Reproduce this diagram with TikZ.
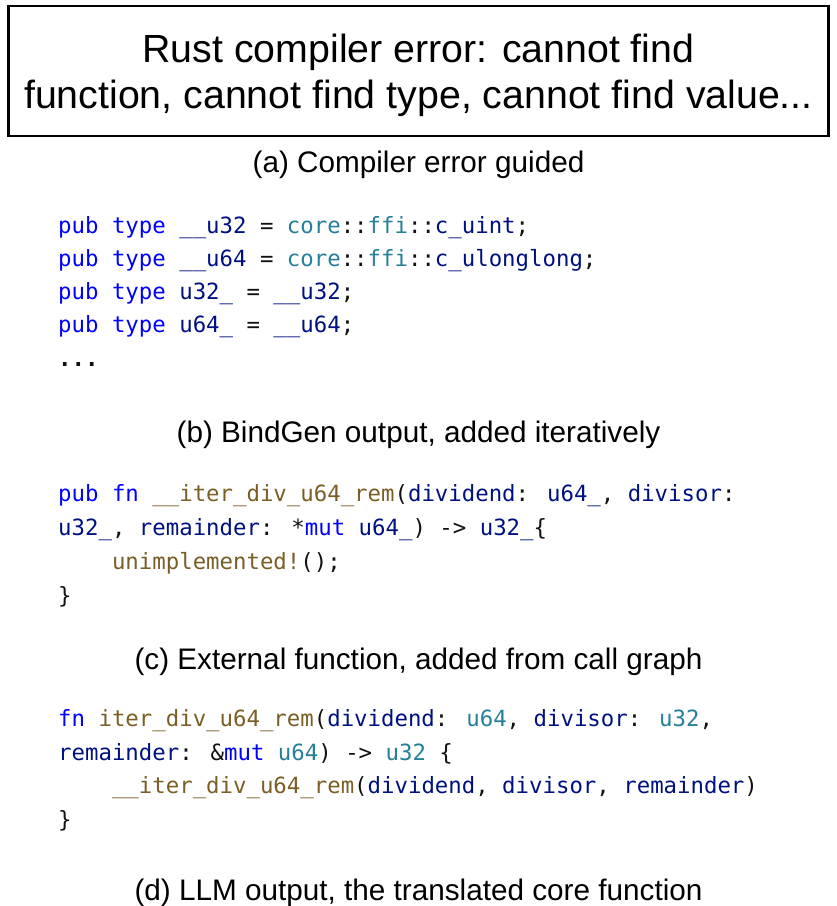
\documentclass[tikz,border=0pt]{standalone}
\usepackage{fontspec}
\setmainfont{Liberation Sans}
\newfontfamily\codefont{DejaVu Sans Mono}[WordSpace={1,0,0}]
\definecolor{kwc}{HTML}{0000FF}
\definecolor{idc}{HTML}{001080}
\definecolor{tyc}{HTML}{267F99}
\definecolor{fnc}{HTML}{795E26}
\definecolor{puc}{HTML}{111111}
\newcommand\ckw[1]{\textcolor{kwc}{#1}}
\newcommand\cid[1]{\textcolor{idc}{#1}}
\newcommand\cty[1]{\textcolor{tyc}{#1}}
\newcommand\cfn[1]{\textcolor{fnc}{#1}}
\begin{document}
\begin{tikzpicture}[x=1pt,y=-1pt,
  code/.style={anchor=base west, inner sep=0pt, text=puc,
    font=\codefont\fontsize{22.35}{26}\selectfont},
  captxt/.style={anchor=base, inner sep=0pt,
    font=\fontsize{29.7}{34}\selectfont},
  titletxt/.style={anchor=base, inner sep=0pt,
    font=\fontsize{39.3}{46}\selectfont},
  titlebox/.style={draw=black, line width=2.5pt, minimum width=820pt,
    minimum height=130pt, inner sep=0pt}]
\useasboundingbox (0,0) rectangle (837,906);
% title
\node[titlebox] (tbox) at (418.25,71) {};
\node[titletxt] (t1) at (418.5,62) {Rust compiler error: cannot find};
\node[titletxt] (t2) at (418.5,108) {function, cannot find type, cannot find value...};
\node[captxt] (capa) at (418.5,172) {(a) Compiler error guided};
% bindgen block
\node[code] (a1) at (58,233) {\ckw{pub type} \cid{\_\_u32} = \cty{core}::\cty{ffi}::\cid{c\_uint};};
\node[code] (a2) at (58,266) {\ckw{pub type} \cid{\_\_u64} = \cty{core}::\cty{ffi}::\cid{c\_ulonglong};};
\node[code] (a3) at (58,299) {\ckw{pub type} \cid{u32\_} = \cid{\_\_u32};};
\node[code] (a4) at (58,332) {\ckw{pub type} \cid{u64\_} = \cid{\_\_u64};};
\node[code] (a5) at (58,366) {\bfseries ...};
\node[captxt] (capb) at (418.5,442) {(b) BindGen output, added iteratively};
% external function block
\node[code] (b1) at (58,501) {\ckw{pub fn} \cfn{\_\_iter\_div\_u64\_rem}(\cid{dividend}: \cid{u64\_}, \cid{divisor}:};
\node[code] (b2) at (58,535) {\cid{u32\_}, \cid{remainder}: *\ckw{mut} \cid{u64\_}) -> \cid{u32\_}\{};
\node[code] (b3) at (58,569) {\hphantom{xxxx}\cfn{unimplemented!}();};
\node[code] (b4) at (58,603) {\}};
\node[captxt] (capc) at (418.5,669) {(c) External function, added from call graph};
% LLM output block
\node[code] (c1) at (58,726) {\ckw{fn} \cfn{iter\_div\_u64\_rem}(\cid{dividend}: \cty{u64}, \cid{divisor}: \cty{u32},};
\node[code] (c2) at (58,760) {\cid{remainder}: \&\ckw{mut} \cty{u64}) -> \cty{u32} \{};
\node[code] (c3) at (58,793) {\hphantom{xxxx}\cfn{\_\_iter\_div\_u64\_rem}(\cid{dividend}, \cid{divisor}, \cid{remainder})};
\node[code] (c4) at (58,827) {\}};
\node[captxt] (capd) at (418.5,900) {(d) LLM output, the translated core function};
\end{tikzpicture}
\end{document}
